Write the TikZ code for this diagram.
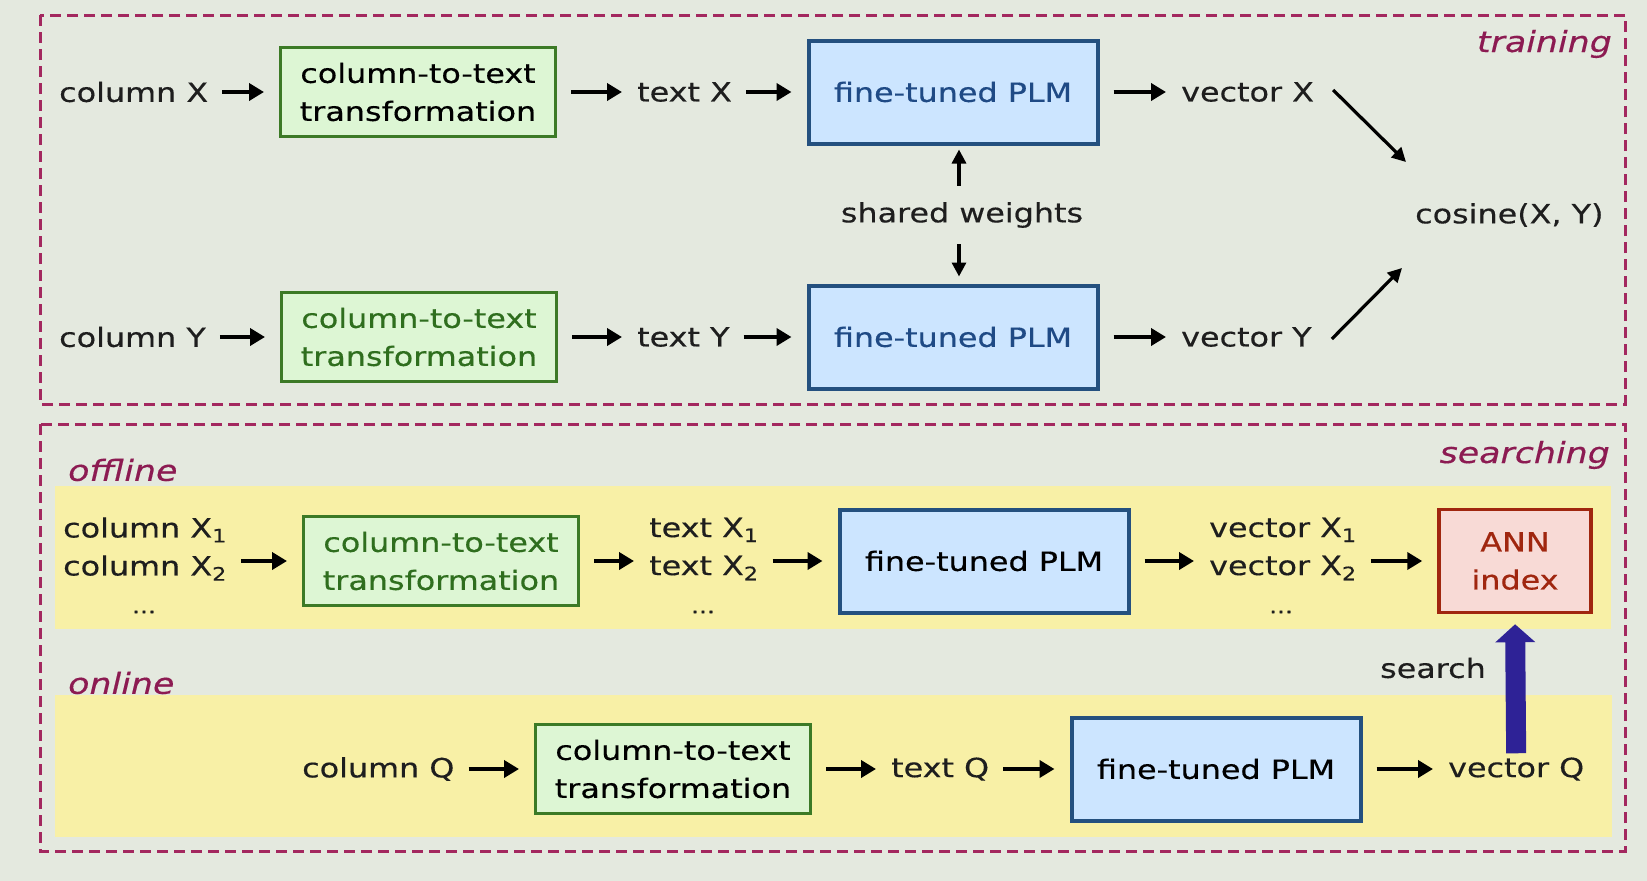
\documentclass[tikz,border=0pt]{standalone}
\usepackage{fontspec}
\setmainfont{DejaVu Sans}[FakeStretch=1.2, FakeBold=0.4, ItalicFont={DejaVu Sans Oblique}]
\usepackage{tikz}
\usetikzlibrary{arrows.meta}

\definecolor{bgcol}{HTML}{E4E9DF}
\definecolor{framecol}{HTML}{A3285F}
\definecolor{labelcol}{HTML}{8C1B52}
\definecolor{bandcol}{HTML}{F8F0A6}
\definecolor{convfill}{HTML}{DDF6D4}
\definecolor{convline}{HTML}{3C7A26}
\definecolor{convtext}{HTML}{2F6E1E}
\definecolor{plmfill}{HTML}{CCE5FF}
\definecolor{plmline}{HTML}{24507F}
\definecolor{plmtext}{HTML}{1F4A85}
\definecolor{annfill}{HTML}{F8DAD6}
\definecolor{annline}{HTML}{A0260F}
\definecolor{searchcol}{HTML}{2E2296}
\definecolor{inkcol}{HTML}{1E1E1E}

\tikzstyle{convbox} = [rectangle, draw=convline, fill=convfill, line width=3pt, minimum width=275pt, minimum height=89pt, inner sep=0pt, align=center]
\tikzstyle{plmbox} = [rectangle, draw=plmline, fill=plmfill, line width=4pt, minimum width=289pt, minimum height=103pt, inner sep=0pt]
\tikzstyle{annbox} = [rectangle, draw=annline, fill=annfill, line width=3.5pt, minimum width=152pt, minimum height=103pt, inner sep=0pt, align=center, text=annline]
\tikzstyle{plain} = [inner sep=0pt, align=left, text=inkcol]
\tikzstyle{tag} = [inner sep=0pt, text=labelcol, font=\fontsize{29pt}{32pt}\selectfont\itshape]
\tikzstyle{dotsnode} = [inner sep=0pt, text=inkcol, font=\fontsize{20pt}{22pt}\selectfont]
\tikzstyle{frame} = [draw=framecol, line width=3pt, dash pattern=on 11pt off 6pt]
\tikzstyle{arrow} = [line width=4.5pt, -{Triangle[length=15pt,width=17pt]}, shorten <=14pt, shorten >=15pt, draw=black]
\tikzstyle{thinarrow} = [line width=3.2pt, -{Triangle[length=14pt,width=14pt]}, draw=black]
\tikzstyle{searcharrow} = [line width=20pt, -{Triangle[length=18pt,width=39pt]}, draw=searchcol]

\begin{document}
\begin{tikzpicture}[x=1pt, y=-1pt, font=\fontsize{26.5pt}{38pt}\selectfont]
    \fill[bgcol] (0,0) rectangle (1647,881);

    % training
    \draw[frame] (40,15) rectangle (1625,404);
    \node[tag, anchor=east] (trainlbl) at (1612,44) {training};

    \node[plain, anchor=west] (colx) at (59,92) {column X};
    \node[convbox] (tfx) at (418,92) {column-to-text\\transformation};
    \node[plain, anchor=west] (textx) at (637,92) {text X};
    \node[plmbox, text=plmtext] (plmx) at (953,92) {fine-tuned PLM};
    \node[plain, anchor=west] (vecx) at (1181,92) {vector X};

    \node[plain, anchor=west] (coly) at (59,337) {column Y};
    \node[convbox, text=convtext] (tfy) at (419,337) {column-to-text\\transformation};
    \node[plain, anchor=west] (texty) at (637,337) {text Y};
    \node[plmbox, text=plmtext] (plmy) at (953,337) {fine-tuned PLM};
    \node[plain, anchor=west] (vecy) at (1181,337) {vector Y};

    \node[plain] (shared) at (962,215) {shared weights};
    \node[plain, anchor=west] (cosine) at (1415,215) {cosine(X, Y)};
    \coordinate (cosx) at (1406,162);
    \coordinate (cosy) at (1402,268);

    \draw [arrow] (colx) -- (tfx);
    \draw [arrow] (tfx) -- (textx);
    \draw [arrow] (textx) -- (plmx);
    \draw [arrow] (plmx) -- (vecx);
    \draw [arrow] (coly) -- (tfy);
    \draw [arrow] (tfy) -- (texty);
    \draw [arrow] (texty) -- (plmy);
    \draw [arrow] (plmy) -- (vecy);
    \draw [thinarrow] ([xshift=19pt,yshift=2pt]vecx.east) -- (cosx);
    \draw [thinarrow] ([xshift=20pt,yshift=-2pt]vecy.east) -- (cosy);
    \draw [thinarrow, shorten <=16pt, shorten >=4pt] (shared.north -| 959,0) -- (plmx.south -| 959,0);
    \draw [thinarrow, shorten <=16pt, shorten >=7pt] (shared.south -| 959,0) -- (plmy.north -| 959,0);

    % searching
    \draw[frame] (40,424) rectangle (1625,851);
    \node[tag, anchor=east] (searchlbl) at (1610,455) {searching};
    \fill[bandcol] (55,486) rectangle (1611,629);
    \fill[bandcol] (55,695) rectangle (1612,837);
    \node[tag, anchor=west] (offlbl) at (68,470) {offline};
    \node[tag, anchor=west] (onlbl) at (68,683) {online};

    % offline
    \node[plain, anchor=west] (colxs) at (63,549) {column X\textsubscript{1}\\column X\textsubscript{2}};
    \node[dotsnode] (dotsa) at (144,612) {\dots};
    \node[convbox, text=convtext] (tfo) at (441,561) {column-to-text\\transformation};
    \node[plain, anchor=west] (textxs) at (649,549) {text X\textsubscript{1}\\text X\textsubscript{2}};
    \node[dotsnode] (dotsb) at (703,612) {\dots};
    \node[plmbox] (plmo) at (984,561) {fine-tuned PLM};
    \node[plain, anchor=west] (vecxs) at (1209,549) {vector X\textsubscript{1}\\vector X\textsubscript{2}};
    \node[dotsnode] (dotsc) at (1281,612) {\dots};
    \node[annbox] (ann) at (1515,561) {ANN\\index};

    \draw [arrow] (colxs.east |- tfo) -- (tfo);
    \draw [arrow] (tfo) -- (textxs.west |- tfo);
    \draw [arrow] (textxs.east |- plmo) -- (plmo);
    \draw [arrow] (plmo) -- (vecxs.west |- plmo);
    \draw [arrow] (vecxs.east |- ann) -- (ann);

    % online
    \node[plain, anchor=west] (colq) at (302,769) {column Q};
    \node[convbox] (tfq) at (673,769) {column-to-text\\transformation};
    \node[plain, anchor=west] (textq) at (891,769) {text Q};
    \node[plmbox] (plmq) at (1216,769) {fine-tuned PLM};
    \node[plain, anchor=west] (vecq) at (1448,769) {vector Q};
    \node[plain] (searchtxt) at (1433,668) {search};

    \draw [arrow] (colq) -- (tfq);
    \draw [arrow] (tfq) -- (textq);
    \draw [arrow] (textq) -- (plmq);
    \draw [arrow] (plmq) -- (vecq);
    \draw [searcharrow, shorten <=4pt, shorten >=10pt] (vecq.north) -- (ann.south);
\end{tikzpicture}
\end{document}
